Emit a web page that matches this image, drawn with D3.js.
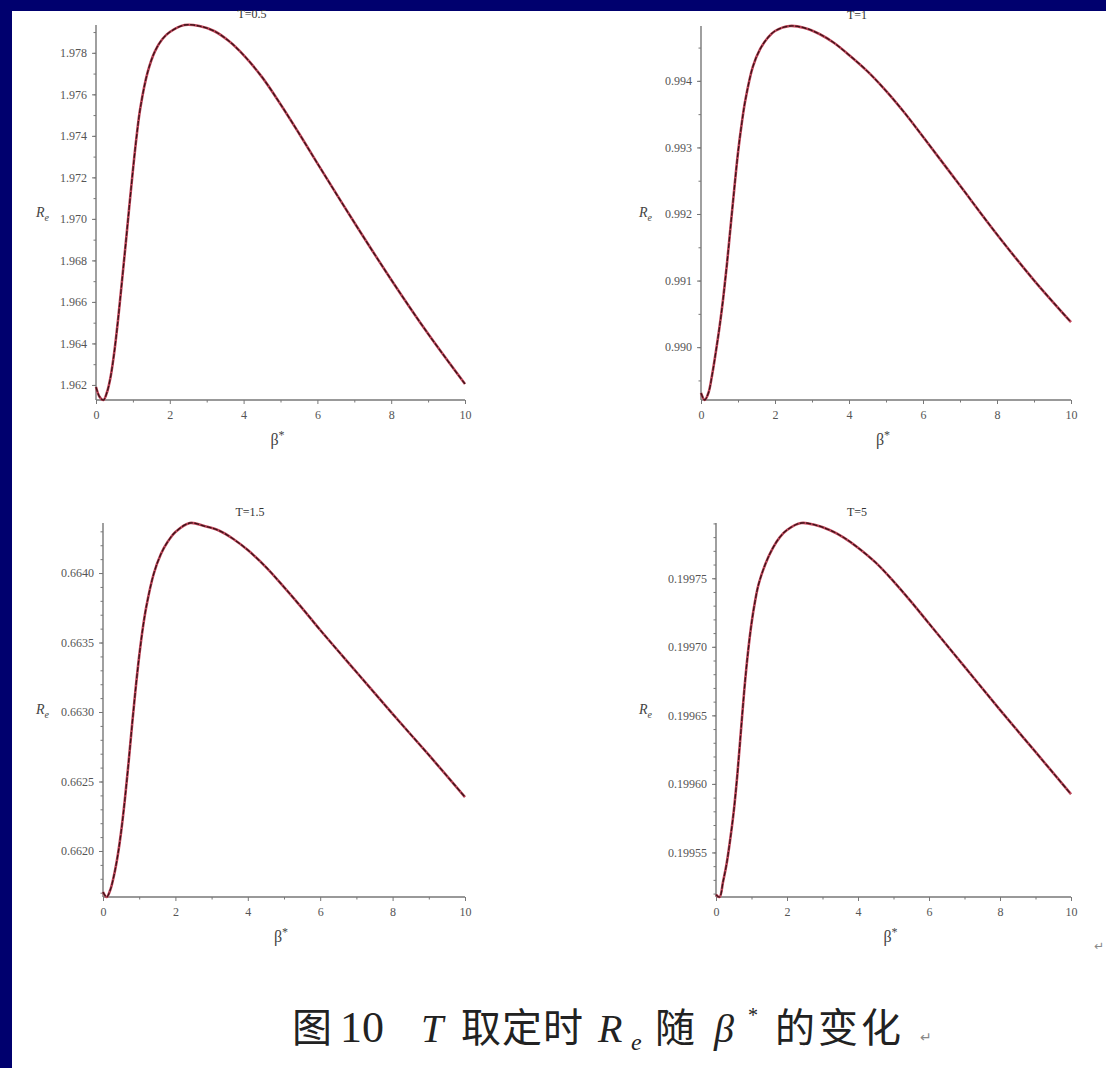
<!DOCTYPE html>
<html>
<head>
<meta charset="utf-8">
<script src="https://cdn.jsdelivr.net/npm/d3@7"></script>
<style>
  html, body { margin: 0; padding: 0; background: #00006e; }
  svg { display: block; }
  .tick text { font-family: "Liberation Serif", "DejaVu Serif", serif; font-size: 12px; fill: #555; }
  .axis path, .axis line { stroke: #777; }
</style>
</head>
<body>
<script>
// beta* sample points shared by all four curves
var beta = [0, 0.1, 0.2, 0.3, 0.4, 0.5, 0.6, 0.7, 0.8, 0.9, 1.0, 1.1, 1.2, 1.4, 1.6, 1.8,
            2.0, 2.4, 2.8, 3.2, 3.6, 4.0, 4.5, 5.0, 5.5, 6, 7, 8, 9, 10];

// R_e
var reT05 = [1.961903, 1.961420, 1.961275, 1.961662, 1.962435, 1.963642, 1.965188, 1.966927,
             1.968714, 1.970549, 1.972336, 1.973978, 1.975331, 1.977070, 1.978084, 1.978664,
             1.979002, 1.979340, 1.979291, 1.979050, 1.978567, 1.977891, 1.976828, 1.975524,
             1.974123, 1.972674, 1.969825, 1.967072, 1.964463, 1.962048];
var reT1 = [0.989311, 0.989206, 0.989311, 0.989581, 0.989925, 0.990300, 0.990734, 0.991243,
            0.991813, 0.992382, 0.992921, 0.993356, 0.993715, 0.994210, 0.994479, 0.994644,
            0.994749, 0.994824, 0.994794, 0.994704, 0.994569, 0.994389, 0.994142, 0.993850,
            0.993521, 0.993161, 0.992427, 0.991693, 0.991004, 0.990375];
var reT15 = [0.661705, 0.661669, 0.661719, 0.661820, 0.661957, 0.662137, 0.662360, 0.662619,
             0.662899, 0.663165, 0.663403, 0.663604, 0.663763, 0.663993, 0.664137, 0.664230,
             0.664295, 0.664360, 0.664338, 0.664306, 0.664245, 0.664165, 0.664043, 0.663899,
             0.663748, 0.663590, 0.663288, 0.662986, 0.662691, 0.662388];
var reT5 = [0.1995192, 0.1995175, 0.1995288, 0.1995419, 0.1995595, 0.1995800, 0.1996064, 0.1996379,
            0.1996694, 0.1996958, 0.1997170, 0.1997332, 0.1997456, 0.1997610, 0.1997720, 0.1997800,
            0.1997852, 0.1997903, 0.1997888, 0.1997852, 0.1997797, 0.1997723, 0.1997614, 0.1997478,
            0.1997328, 0.1997170, 0.1996855, 0.1996540, 0.1996233, 0.1995925];

var titles = ["T=0.5", "T=1", "T=1.5", "T=5"];
var yMajor = [0.002, 0.001, 0.0005, 0.00005];
var yMinor = [0.001, 0.0005, 0.0001, 0.00001];
var yFmt = [".3f", ".3f", ".4f", ".5f"];
var xTicks = [0, 2, 4, 6, 8, 10];
var xMinorTicks = [1, 3, 5, 7, 9];

var W = 1106, H = 1068;

var svg = d3.select("body").append("svg")
    .attr("width", W)
    .attr("height", H);

// white page on the navy slide
svg.append("rect")
    .attr("x", 12).attr("y", 11)
    .attr("width", W - 12).attr("height", H - 11)
    .attr("fill", "#fff");

// panel boxes (plot area edges)
var boxes = [
  {left: 96,  right: 465,  top: 25,  bottom: 400, labX: 36,  titleX: 252},
  {left: 701, right: 1071, top: 26,  bottom: 400, labX: 639, titleX: 857},
  {left: 103, right: 465,  top: 523, bottom: 897, labX: 36,  titleX: 250},
  {left: 716, right: 1071, top: 523, bottom: 897, labX: 639, titleX: 857}
];
var series = [reT05, reT1, reT15, reT5];

function stepTicks(domain, step) {
  var out = [];
  var start = Math.ceil(domain[0] / step - 1e-6);
  var end = Math.floor(domain[1] / step + 1e-6);
  for (var i = start; i <= end; i++) out.push(+(i * step).toPrecision(10));
  return out;
}

boxes.forEach(function(b, k) {
  var vals = series[k];
  var data = beta.map(function(d, i) { return [d, vals[i]]; });

  var x = d3.scaleLinear().domain([0, 10]).range([b.left, b.right]);
  var y = d3.scaleLinear().domain(d3.extent(vals)).range([b.bottom, b.top]);

  var g = svg.append("g");

  // minor ticks
  g.append("g")
      .attr("class", "axis")
      .attr("transform", "translate(" + b.left + ",0)")
      .call(d3.axisLeft(y).tickValues(stepTicks(y.domain(), yMinor[k])).tickSize(2.5).tickFormat(""))
      .select(".domain").remove();
  g.append("g")
      .attr("class", "axis")
      .attr("transform", "translate(0," + b.bottom + ")")
      .call(d3.axisBottom(x).tickValues(xMinorTicks).tickSize(2.5).tickFormat(""))
      .select(".domain").remove();

  // major ticks + labels
  var ya = g.append("g")
      .attr("class", "axis")
      .attr("transform", "translate(" + b.left + ",0)")
      .call(d3.axisLeft(y).tickValues(stepTicks(y.domain(), yMajor[k]))
              .tickSize(4).tickPadding(5).tickFormat(d3.format(yFmt[k])));
  ya.select(".domain").attr("d", "M0," + b.top + "V" + b.bottom).attr("stroke-width", 1.4);

  var xa = g.append("g")
      .attr("class", "axis")
      .attr("transform", "translate(0," + b.bottom + ")")
      .call(d3.axisBottom(x).tickValues(xTicks).tickSize(4).tickPadding(6).tickFormat(d3.format("d")));
  xa.select(".domain").attr("d", "M" + b.left + ",0H" + b.right).attr("stroke-width", 1.4);

  // the curve: red line with a dark core
  var line = d3.line()
      .x(function(d) { return x(d[0]); })
      .y(function(d) { return y(d[1]); })
      .curve(d3.curveCatmullRom.alpha(0.5));

  g.append("path").datum(data)
      .attr("d", line)
      .attr("fill", "none")
      .attr("stroke", "#c0455a")
      .attr("stroke-width", 2.6);
  g.append("path").datum(data)
      .attr("d", line)
      .attr("fill", "none")
      .attr("stroke", "#3a1418")
      .attr("stroke-width", 1.3)
      .attr("stroke-dasharray", "5,1.5");

  // title
  g.append("text")
      .attr("x", b.titleX)
      .attr("y", b.top - 7)
      .attr("text-anchor", "middle")
      .attr("font-family", "Liberation Serif, serif")
      .attr("font-size", 12)
      .attr("fill", "#333")
      .text(titles[k]);

  // x label beta*
  var xl = g.append("text")
      .attr("x", (b.left + b.right) / 2 - 3)
      .attr("y", b.bottom + 45)
      .attr("text-anchor", "middle")
      .attr("font-family", "Liberation Serif, serif")
      .attr("font-size", 16)
      .attr("fill", "#444");
  xl.append("tspan").text("\u03b2");
  xl.append("tspan").attr("dy", -6).attr("font-size", 12).text("*");

  // y label R_e
  var yl = g.append("text")
      .attr("x", b.labX)
      .attr("y", (b.top + b.bottom) / 2 + 4)
      .attr("font-family", "Liberation Serif, serif")
      .attr("font-style", "italic")
      .attr("font-size", 14)
      .attr("fill", "#444");
  yl.append("tspan").text("R");
  yl.append("tspan").attr("dy", 4).attr("font-size", 10).text("e");
});

// stray return mark at the right edge
svg.append("text")
    .attr("x", 1094).attr("y", 950)
    .attr("font-family", "DejaVu Sans, sans-serif")
    .attr("font-size", 12)
    .attr("fill", "#888")
    .text("\u21b5");

// caption, placed piece by piece
var capY = 1042;
var cap = svg.append("g")
    .attr("fill", "#222")
    .attr("font-size", 40);

function capText(x, s, font, extra) {
  var t = cap.append("text")
      .attr("x", x)
      .attr("y", capY)
      .attr("font-family", font)
      .text(s);
  if (extra) extra(t);
  return t;
}
var serif = "Liberation Serif, serif";
var cjk = "Noto Sans CJK SC, sans-serif";

capText(292, "图", cjk);
capText(340, "10", serif, function(t) { t.attr("font-size", 44); });
capText(421, "T", serif, function(t) { t.attr("font-style", "italic"); });
capText(461, "取定时", cjk, function(t) { t.attr("letter-spacing", 1); });
capText(598, "R", serif, function(t) { t.attr("font-style", "italic"); });
capText(631, "e", serif, function(t) { t.attr("font-style", "italic").attr("font-size", 24).attr("y", capY + 8); });
capText(655, "随", cjk);
capText(714, "\u03b2", serif, function(t) { t.attr("font-style", "italic"); });
capText(748, "*", serif, function(t) { t.attr("font-size", 20).attr("y", capY - 20); });
capText(775, "的变化", cjk, function(t) { t.attr("letter-spacing", 3); });
capText(920, "\u21b5", "DejaVu Sans, sans-serif", function(t) { t.attr("font-size", 14).attr("fill", "#888"); });
</script>
</body>
</html>
